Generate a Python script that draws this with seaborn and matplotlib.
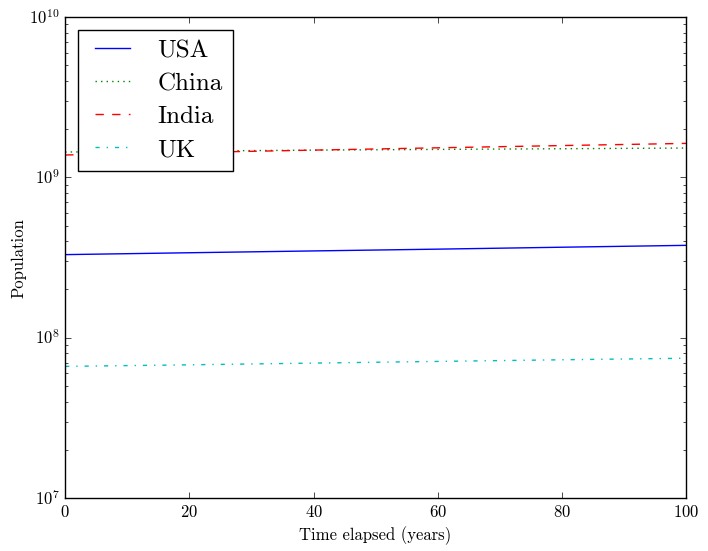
import numpy as np
import pandas as pd
import matplotlib
matplotlib.use("Agg")
import matplotlib.pyplot as plt
import seaborn as sns

# anni trascorsi e popolazioni
years = [0, 20, 40, 60, 80, 100]
usa = [3.30e8, 3.39e8, 3.48e8, 3.57e8, 3.67e8, 3.77e8]
china = [1.44e9, 1.46e9, 1.48e9, 1.495e9, 1.51e9, 1.525e9]
india = [1.38e9, 1.43e9, 1.48e9, 1.53e9, 1.58e9, 1.63e9]
uk = [6.63e7, 6.78e7, 6.95e7, 7.12e7, 7.29e7, 7.45e7]

countries = ["USA", "China", "India", "UK"]
colors = ["b", "g", "r", "c"]
styles = ["-", ":", "--", "-."]

plt.style.use("classic")
plt.rcParams["font.family"] = ["cmr10", "DejaVu Serif"]
plt.rcParams["mathtext.fontset"] = "cm"
plt.rcParams["axes.formatter.use_mathtext"] = True

fig = plt.figure(figsize=(7.08, 5.51), dpi=100)
ax = fig.add_axes([0.092, 0.096, 0.877, 0.873])

for name, vals, c, ls in zip(countries, [usa, china, india, uk], colors, styles):
    sns.lineplot(x=years, y=vals, color=c, linestyle=ls, label=name, ax=ax)

ax.set_yscale("log")
ax.set_xlim(0, 100)
ax.set_ylim(1e7, 1e10)
ax.set_xlabel("Time elapsed (years)", fontsize=12)
ax.set_ylabel("Population", fontsize=12, labelpad=2)
ax.tick_params(labelsize=12)
ax.legend(loc="upper left", fontsize=18, labelspacing=0.42)

fig.savefig("out.png", dpi=100)
